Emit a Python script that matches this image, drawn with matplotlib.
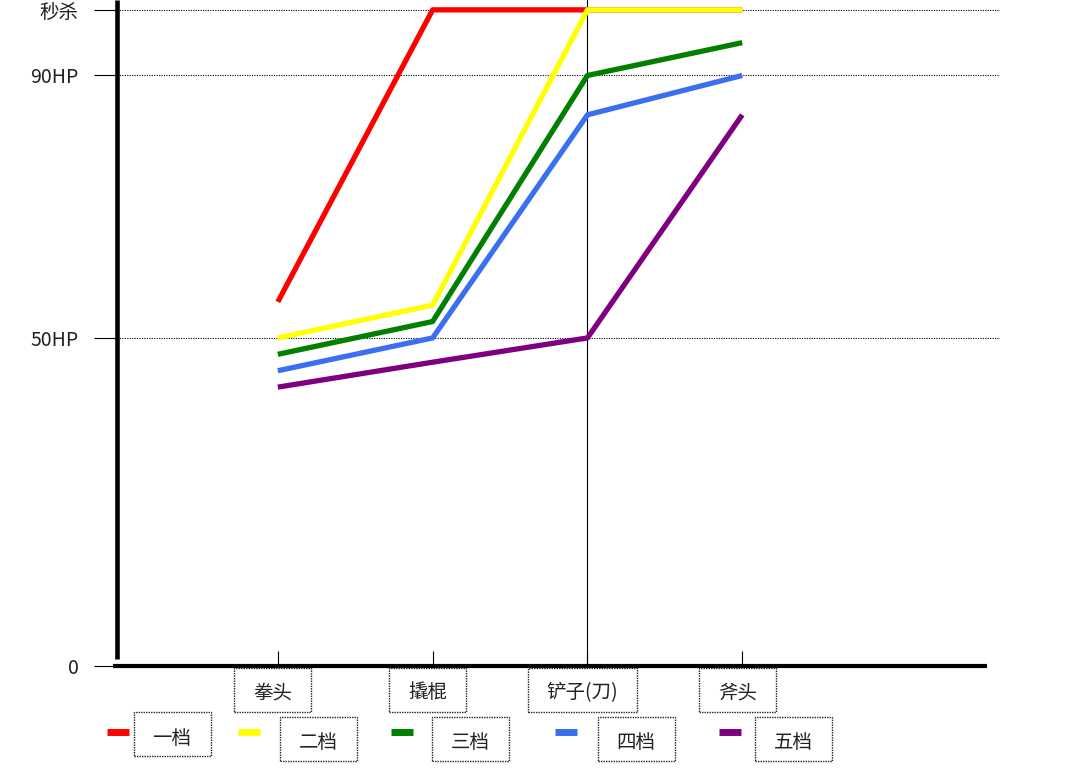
import numpy as np
import matplotlib
matplotlib.use("Agg")
import matplotlib.pyplot as plt
from matplotlib.lines import Line2D
from matplotlib.patches import Rectangle

plt.rcParams['font.family'] = ['Noto Sans CJK SC', 'DejaVu Sans']

# data
weapons = ["拳头", "撬棍", "铲子(刀)", "斧头"]
gears = ["一档", "二档", "三档", "四档", "五档"]
gear_1 = [55.5, 100, 100, 100]
gear_2 = [50, 55, 100, 100]
gear_3 = [47.5, 52.5, 90, 95]
gear_4 = [45, 50, 84, 90]
gear_5 = [42.5, 46.3, 50, 84]
y_ticks = [0, 50, 90, 100]
y_labels = ["0", "50HP", "90HP", "秒杀"]

colors = ["#ff0000", "#ffff00", "#007f00", "#3a6fef", "#7f007f"]
series = [gear_1, gear_2, gear_3, gear_4, gear_5]

W, H = 1080, 774


def fig_xy(px, py):
    # pixel coords measured from top-left -> figure fraction
    return px / W, 1 - py / H


fig = plt.figure(figsize=(W / 100, H / 100), dpi=100)
ax = fig.add_axes([117 / W, 108 / H, 883 / W, 666 / H])

x = np.arange(len(weapons))
for vals, c in zip(series, colors):
    ax.plot(x, vals, color=c, lw=3.8, solid_capstyle='butt', zorder=3)

ax.set_xlim(-1.039, 4.665)
ax.set_ylim(0, 101.5)
for s in ax.spines.values():
    s.set_visible(False)

# dotted guide lines + vertical line at 铲子
for v in y_ticks[1:]:
    ax.axhline(v, color='black', lw=0.8, ls=(0, (1, 1.2)), zorder=1)
ax.axvline(2, color='black', lw=0.8, zorder=2)

# hand-drawn style axes
ax.plot([0, 0], [0.011, 1], transform=ax.transAxes, color='black', lw=3.3,
        solid_capstyle='butt', clip_on=False)
ax.plot([-0.005, 0.985], [0, 0], transform=ax.transAxes, color='black', lw=3.0,
        solid_capstyle='butt', clip_on=False)

ax.set_yticks(y_ticks, y_labels)
ax.tick_params(axis='y', length=16.5, width=0.8, pad=11, labelsize=14, labelcolor='#222222')
ax.set_xticks(x, [""] * len(x))
ax.tick_params(axis='x', direction='in', length=11, width=0.8)

# boxed labels
boxed = []
for i, name in enumerate(weapons):
    px = ax.transData.transform((i, 0))[0] - 5
    t = fig.text(px / W, 1 - 693 / H, name, ha='center', va='center', fontsize=14, color='#222222')
    boxed.append((t, px, 690))

swatch_x = [118, 249, 402, 566, 730]
box_x = [172, 318, 470, 636, 793]
legend_y = [734, 739, 739, 739, 739]
for name, c, sx, bx, ly in zip(gears, colors, swatch_x, box_x, legend_y):
    x0, y0 = fig_xy(sx - 11, 732)
    x1, _ = fig_xy(sx + 11, 732)
    fig.add_artist(Line2D([x0, x1], [y0, y0], color=c, lw=5, solid_capstyle='butt'))
    t = fig.text(bx / W, 1 - (ly + 4) / H, name, ha='center', va='center', fontsize=14, color='#222222')
    boxed.append((t, bx, ly))

fig.canvas.draw()
renderer = fig.canvas.get_renderer()
for t, cx, cy in boxed:
    bb = t.get_window_extent(renderer)
    bw = bb.width + 38
    bh = 44
    fx, fy = fig_xy(cx - bw / 2, cy + bh / 2)
    fig.add_artist(Rectangle((fx, fy), bw / W, bh / H, transform=fig.transFigure,
                             fill=False, edgecolor='#222222', lw=1.0, ls=(0, (1, 0.8))))

fig.savefig("out.png", dpi=100)
